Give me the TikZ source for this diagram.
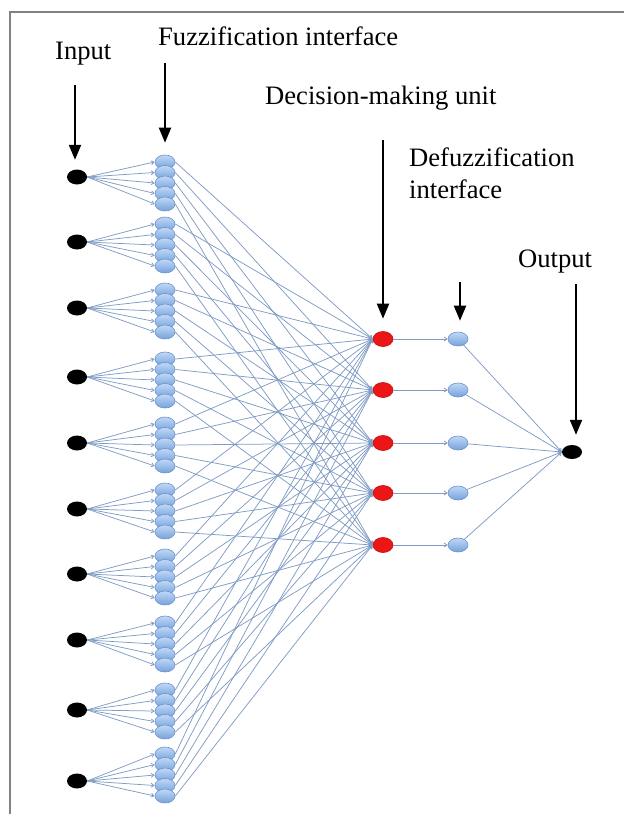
\documentclass[tikz,border=0pt]{standalone}
\usepackage{fontspec}
\setmainfont{Liberation Serif}
\usepackage{tikz}
\usetikzlibrary{shapes.geometric,arrows.meta,calc}
\usepackage{xcolor}
\definecolor{linkblue}{RGB}{128,156,196}
\definecolor{fzlight}{RGB}{192,216,246}
\definecolor{fzdark}{RGB}{118,162,220}
\definecolor{fzedge}{RGB}{104,146,204}
\definecolor{dmred}{RGB}{236,22,22}
\definecolor{dmedge}{RGB}{190,16,16}
\definecolor{framegray}{RGB}{130,130,130}

\begin{document}
\begin{tikzpicture}[
    x=1pt, y=-1pt,
    inball/.style={ellipse, fill=black, minimum width=20pt, minimum height=15pt, inner sep=0},
    fzball/.style={ellipse, draw=fzedge, line width=0.6pt, top color=fzlight, bottom color=fzdark, minimum width=20pt, minimum height=14pt, inner sep=0},
    dmball/.style={ellipse, draw=dmedge, line width=0.6pt, fill=dmred, minimum width=20pt, minimum height=15pt, inner sep=0},
    link/.style={draw=linkblue, line width=0.75pt, -{Straight Barb[length=3pt,width=4pt]}},
    fat/.style={line width=2pt, -{Triangle[width=12pt,length=15pt]}},
    lbl/.style={inner sep=0, anchor=base west, align=left, font=\fontsize{26.6}{32}\selectfont},
]
    \useasboundingbox (0,0) rectangle (624,814);
    \draw[framegray, line width=1.2pt] (10,814) -- (10,12) -- (624,12);

    % decision-making and defuzzification units
    \foreach \j/\y in {1/339, 2/390, 3/443, 4/493, 5/545} {
        \node[dmball] (dm\j) at (383,\y) {};
        \node[fzball] (df\j) at (458,\y) {};
    }
    \node[inball, minimum height=14pt] (out) at (572,452) {};

    % inputs and fuzzification groups
    \foreach \i/\yin/\yg in {1/177/183, 2/242/245, 3/308/311, 4/377/380, 5/443/445,
                             6/509/511, 7/574/577, 8/640/644, 9/710/711, 10/781/775} {
        \node[inball] (in\i) at (77,\yin) {};
        \foreach \j in {1,...,5} {
            \node[fzball] (fz\i-\j) at (165,{\yg+10.5*\j-31.5}) {};
            \draw[link] (in\i.east) -- (fz\i-\j.west);
            \draw[link] (fz\i-\j.east) -- (dm\j.west);
        }
    }

    \foreach \j in {1,...,5} {
        \draw[link] (dm\j) -- (df\j);
        \draw[link] (df\j) -- (out.west);
    }

    % labels
    \node[lbl] (tin) at (55,59) {Input};
    \node[lbl] (tfz) at (158,45) {Fuzzification interface};
    \node[lbl] (tdm) at (265,104) {Decision-making unit};
    \node[lbl] (tdf) at (409,198) {Defuzzification\\interface};
    \node[lbl] (tout) at (518,267) {Output};

    \coordinate (ain) at (75,85);
    \coordinate (afz) at (165,63);
    \coordinate (adm) at (383,140);
    \coordinate (adf) at (460,282);
    \coordinate (aout) at (576,284);
    \draw[fat, shorten >=9.5pt] (ain) -- (ain |- in1.north);
    \draw[fat, shorten >=12pt] (afz) -- (afz |- fz1-1.north);
    \draw[fat, shorten >=12.5pt] (adm) -- (adm |- dm1.north);
    \draw[fat, shorten >=11pt] (adf) -- (adf |- df1.north);
    \draw[fat, shorten >=10pt] (aout) -- (aout |- out.north);
\end{tikzpicture}
\end{document}
